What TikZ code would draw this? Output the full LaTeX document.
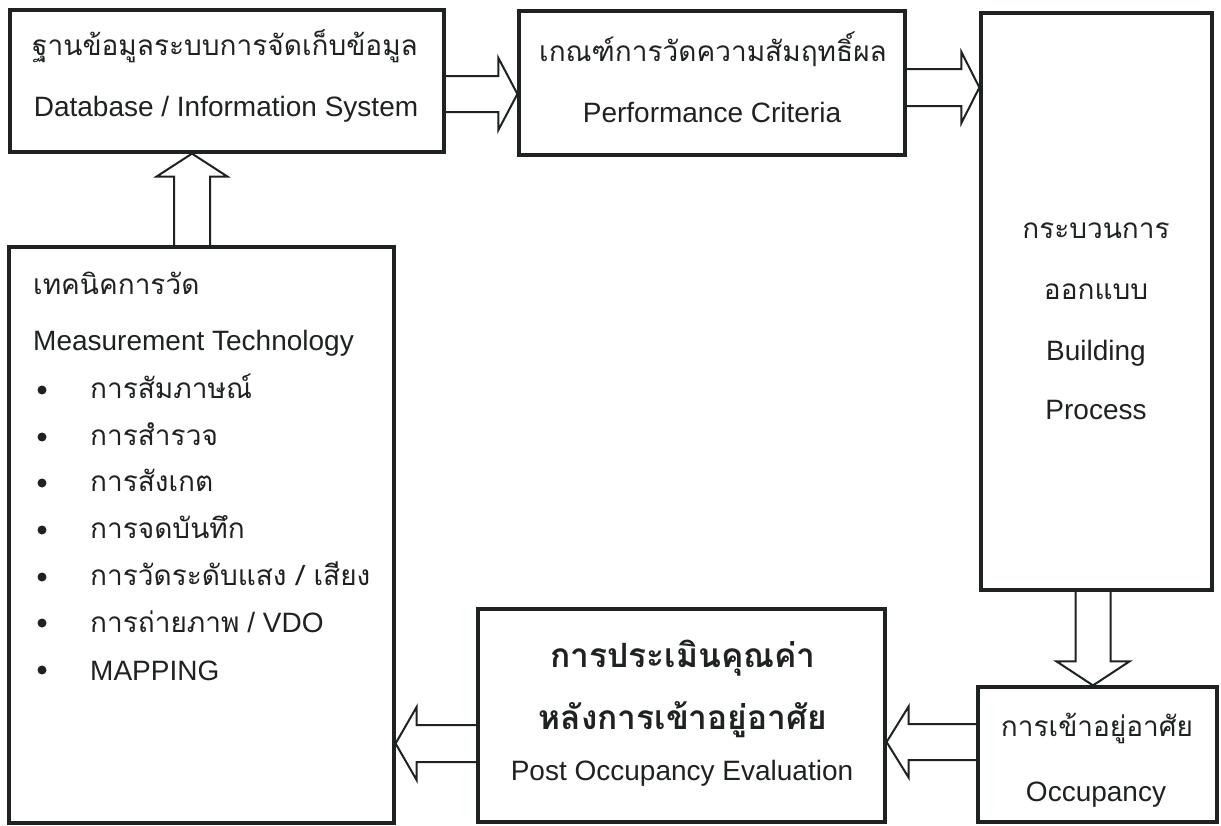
\documentclass[tikz,border=0pt]{standalone}
\usepackage{fontspec}
\setmainfont{Liberation Sans}
\newfontfamily\thai[Script=Thai]{Loma}
\usetikzlibrary{calc}
\definecolor{ink}{RGB}{30,34,32}
\newcommand{\thaitext}[1]{{\thai\fontsize{28}{33}\selectfont #1}}
% horizontal block arrow: #1 start, #2 tip, #3 signed head length, #4 shaft half width, #5 head half width
\newcommand{\harr}[5]{\draw[arr] let \p1=(#1), \p2=(#2) in
  (\x1,{\y1+#4pt}) -- ({\x2-(#3pt)},{\y1+#4pt}) -- ({\x2-(#3pt)},{\y1+#5pt}) -- (\x2,\y1)
  -- ({\x2-(#3pt)},{\y1-#5pt}) -- ({\x2-(#3pt)},{\y1-#4pt}) -- (\x1,{\y1-#4pt});}
% vertical block arrow
\newcommand{\varr}[5]{\draw[arr] let \p1=(#1), \p2=(#2) in
  ({\x1+#4pt},\y1) -- ({\x1+#4pt},{\y2-(#3pt)}) -- ({\x1+#5pt},{\y2-(#3pt)}) -- (\x1,\y2)
  -- ({\x1-#5pt},{\y2-(#3pt)}) -- ({\x1-#4pt},{\y2-(#3pt)}) -- ({\x1-#4pt},\y1);}
\tikzset{
  box/.style={draw=ink, line width=3.2pt, inner sep=0pt, fill=none},
  arr/.style={draw=ink, line width=2pt, line join=miter},
  en/.style={font=\fontsize{28}{33}\selectfont, text=ink, anchor=base, inner sep=0pt},
  th/.style={font=\thai\fontsize{28}{33}\selectfont, text=ink, anchor=base, inner sep=0pt},
  thb/.style={font=\thai\bfseries\fontsize{33.5}{40}\selectfont, text=ink, anchor=base, inner sep=0pt},
  bul/.style={fill=ink},
}
\begin{document}
\begin{tikzpicture}[x=1pt,y=-1pt]
\useasboundingbox[fill=white] (0,0) rectangle (1221,825);
% boxes
\node[box, minimum width=434pt, minimum height=142pt] (db) at (227,81) {};
\node[box, minimum width=386pt, minimum height=144pt] (pc) at (712,83) {};
\node[box, minimum width=231pt, minimum height=577pt] (bp) at (1096.5,301.5) {};
\node[box, minimum width=239pt, minimum height=135pt] (oc) at (1097.5,754.5) {};
\node[box, minimum width=407pt, minimum height=213pt] (poe) at (681.5,715.5) {};
\node[box, minimum width=385pt, minimum height=576pt] (mt) at (201.5,535) {};
% texts
\node[th] (dbth) at (225,55) {ฐานข้อมูลระบบการจัดเก็บข้อมูล};
\node[en] (dben) at (226,116) {Database / Information System};
\node[th] (pcth) at (713,61) {เกณฑ์การวัดความสัมฤทธิ์ผล};
\node[en] (pcen) at (712,122) {Performance Criteria};
\node[th] (bp1) at (1096,238) {กระบวนการ};
\node[th] (bp2) at (1096,299) {ออกแบบ};
\node[en] (bp3) at (1096,360) {Building};
\node[en] (bp4) at (1096,419) {Process};
\node[th] (oc1) at (1097,736) {การเข้าอยู่อาศัย};
\node[en] (oc2) at (1096,801) {Occupancy};
\node[thb] (poe1) at (683,667) {การประเมินคุณค่า};
\node[thb] (poe2) at (683,729) {หลังการเข้าอยู่อาศัย};
\node[en] (poe3) at (682,780) {Post Occupancy Evaluation};
\node[th, anchor=base west] (mt1) at (33,294) {เทคนิคการวัด};
\node[en, anchor=base west] (mt2) at (33,350) {Measurement Technology};
\fill[bul] (42,390) circle (4.5pt);
\node[th, anchor=base west] (it1) at (90,398) {การสัมภาษณ์};
\fill[bul] (42,437) circle (4.5pt);
\node[th, anchor=base west] (it2) at (90,445) {การสำรวจ};
\fill[bul] (42,483) circle (4.5pt);
\node[th, anchor=base west] (it3) at (90,491) {การสังเกต};
\fill[bul] (42,530) circle (4.5pt);
\node[th, anchor=base west] (it4) at (90,538) {การจดบันทึก};
\fill[bul] (42,577) circle (4.5pt);
\node[th, anchor=base west] (it5) at (90,585) {การวัดระดับแสง / เสียง};
\fill[bul] (42,623) circle (4.5pt);
\node[en, anchor=base west] (it6) at (90,632) {\thaitext{การถ่ายภาพ} / VDO};
\fill[bul] (42,670) circle (4.5pt);
\node[en, anchor=base west] (it7) at (90,680) {MAPPING};
% block arrows
\harr{db.east |- 0,94}{pc.west |- 0,94}{19}{18}{36}
\harr{pc.east |- 0,87.5}{bp.west |- 0,87.5}{18}{18.5}{35.5}
\varr{mt.north -| 192,0}{db.south -| 192,0}{23}{18}{35.5}
\varr{bp.south -| 1093,0}{oc.north -| 1093,0}{-24}{17.5}{36.5}
\harr{oc.west |- 0,742}{poe.east |- 0,742}{-22}{18}{35.5}
\harr{poe.west |- 0,743.5}{mt.east |- 0,743.5}{-21}{18.5}{36.5}
\end{tikzpicture}
\end{document}
